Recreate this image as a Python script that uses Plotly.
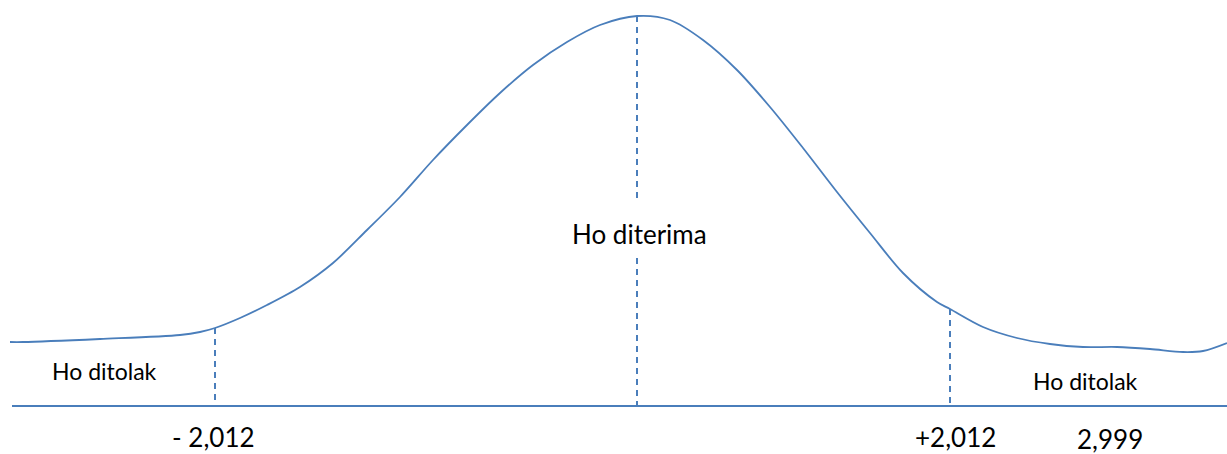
import plotly.graph_objects as go

# curve: x position, height above the base line
curve_x = [10, 23, 100, 180, 200, 215, 240, 267, 300, 333, 367, 400, 433, 467, 500,
           533, 567, 600, 637, 670, 703, 737, 770, 803, 837, 870, 903, 937, 950,
           983, 1017, 1050, 1083, 1117, 1150, 1183, 1203, 1227]
curve_h = [64, 64, 67, 71, 74, 78, 88, 101, 119, 143, 176, 209, 246, 281, 313,
           341, 364, 381, 390, 386, 366, 336, 299, 258, 214, 173, 133, 104, 97,
           79, 68, 62, 59, 59, 57, 54, 55, 63]

# critical values and where the dashed lines sit
crit_x = [215, 637, 950]
crit_top = [78, 390, 97]
gap_h = [204, 148]  # break in the centre line for the label

tick_labels = ["- 2,012", "+2,012", "2,999"]
tick_x = [213, 955, 1110]
tick_h = [-31, -31, -33]

region_labels = ["Ho ditolak", "Ho diterima", "Ho ditolak"]
region_x = [104, 639, 1085]
region_h = [35, 172, 25]

axis_x = [12, 1227]
blue = "#4A7EBB"

fig = go.Figure()

fig.add_trace(go.Scatter(x=curve_x, y=curve_h, mode="lines",
                         line=dict(color=blue, width=1.8, shape="spline", smoothing=0.9)))

fig.add_trace(go.Scatter(x=axis_x, y=[0, 0], mode="lines",
                         line=dict(color=blue, width=2)))

# dashed verticals
dx, dy = [], []
for i, x in enumerate(crit_x):
    if i == 1:
        dx += [x, x, None, x, x, None]
        dy += [crit_top[i], gap_h[0], None, gap_h[1], 0, None]
    else:
        dx += [x, x, None]
        dy += [crit_top[i], 0, None]
fig.add_trace(go.Scatter(x=dx, y=dy, mode="lines",
                         line=dict(color=blue, width=2, dash="6px,5px")))

for t, x, y in zip(region_labels, region_x, region_h):
    fig.add_annotation(x=x, y=y, text=t, showarrow=False,
                       font=dict(family="Lato", size=26 if t == "Ho diterima" else 23, color="black"))

for t, x, y in zip(tick_labels, tick_x, tick_h):
    fig.add_annotation(x=x, y=y, text=t, showarrow=False,
                       font=dict(family="Lato", size=26, color="black"))

fig.update_layout(width=1227, height=454, margin=dict(l=0, r=0, t=0, b=0),
                  plot_bgcolor="white", paper_bgcolor="white", showlegend=False)
fig.update_xaxes(range=[0, 1227], visible=False)
fig.update_yaxes(range=[-48, 406], visible=False)

fig.write_html("out.html", config={"displayModeBar": False},
               post_script="document.body.style.margin='0';")
